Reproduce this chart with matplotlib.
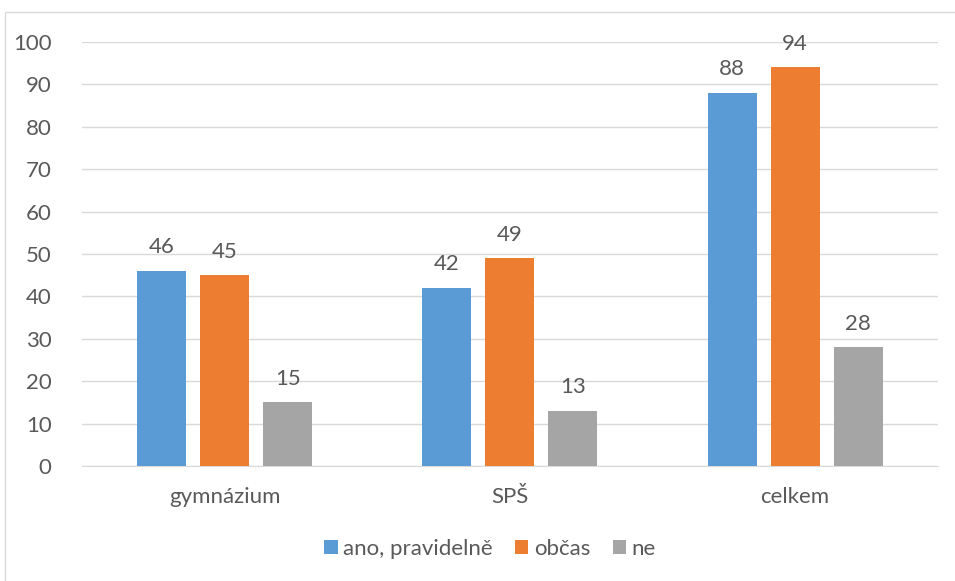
import numpy as np
import matplotlib.pyplot as plt
from matplotlib.patches import Rectangle

categories = ["gymnázium", "SPŠ", "celkem"]
series_names = ["ano, pravidelně", "občas", "ne"]
ano = [46, 42, 88]
obcas = [45, 49, 94]
ne = [15, 13, 28]
colors = ["#5B9BD5", "#ED7D31", "#A5A5A5"]

plt.rcParams['font.family'] = ['Lato', 'DejaVu Sans']
TXT = "#595959"
FS = 16

fig = plt.figure(figsize=(9.55, 5.81), dpi=100)
ax = fig.add_axes([0.0859, 0.198, 0.8961, 0.7297])

x = np.arange(len(categories))
w = 0.172
off = 0.221
for i, (vals, name) in enumerate(zip([ano, obcas, ne], series_names)):
    bars = ax.bar(x + (i - 1) * off, vals, w, color=colors[i], label=name, zorder=3)
    for b, v in zip(bars, vals):
        ax.text(b.get_x() + b.get_width() / 2, v + 3.2, str(v), ha="center",
                va="bottom", fontsize=FS, color=TXT)

ax.set_xlim(-0.5, 2.5)
ax.set_ylim(0, 100)
ax.set_yticks(range(0, 101, 10))
ax.set_xticks(x)
ax.set_xticklabels(categories)
ax.grid(True, axis="y", color="#D9D9D9", linewidth=1, zorder=0)
for s in ["top", "right", "left"]:
    ax.spines[s].set_visible(False)
ax.spines["bottom"].set_color("#D9D9D9")
ax.tick_params(axis="both", length=0, labelsize=FS, labelcolor=TXT)
ax.tick_params(axis="y", pad=22)
ax.tick_params(axis="x", pad=15)

fig.legend(loc="center", bbox_to_anchor=(490 / 955, 1 - 549 / 581), ncol=3,
           frameon=False, fontsize=FS, labelcolor=TXT, handlelength=0.6,
           handleheight=0.6, handletextpad=0.25, columnspacing=1.0)

fig.patches.append(Rectangle((5 / 955, -0.1), 1.1, 1 - 12 / 581 + 0.1,
                             transform=fig.transFigure, fill=False,
                             edgecolor="#D9D9D9", linewidth=1))

fig.savefig("out.png", dpi=100)
